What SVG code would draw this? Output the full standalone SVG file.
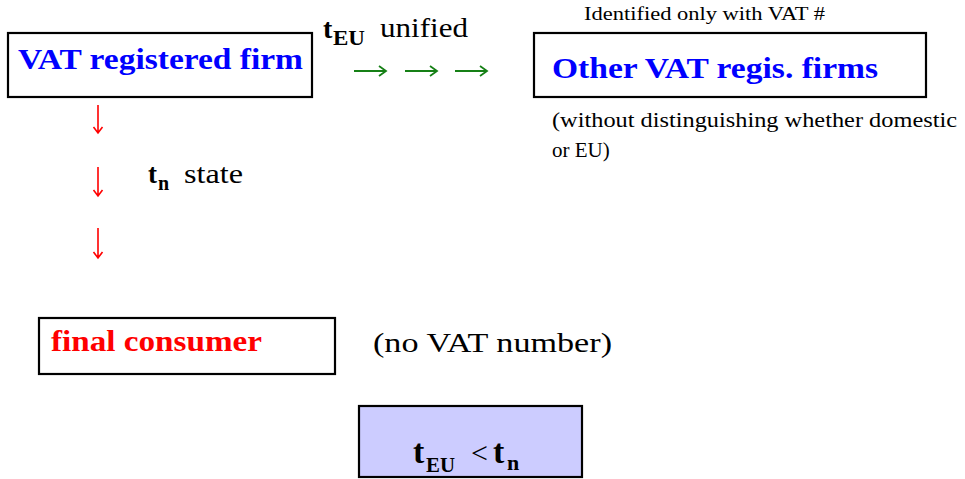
<svg xmlns="http://www.w3.org/2000/svg" width="965" height="479" viewBox="0 0 965 479">
<style>
text{font-family:'Liberation Serif','DejaVu Serif','Times New Roman',serif;}
.box{fill:#ffffff;stroke:#000000;stroke-width:2.2;}
.blue{fill:#0000ff;font-weight:bold;font-size:30px;}
.red{fill:#ff0000;font-weight:bold;font-size:29px;}
.b{font-weight:bold;}
.g{stroke:#168016;stroke-width:1.8;fill:none;}
.r{stroke:#ff0000;stroke-width:1.6;fill:none;}
</style>
<rect width="965" height="479" fill="#ffffff"/>
<g font-family="'Liberation Serif', 'DejaVu Serif', serif">
<g id="vat-firm">
<rect class="box" x="8" y="33" width="304" height="64"/>
<text class="blue" x="18" y="69" textLength="285" lengthAdjust="spacingAndGlyphs">VAT registered firm</text>
</g>
<g id="other-firms">
<text x="584" y="20" font-size="18" textLength="241" lengthAdjust="spacingAndGlyphs">Identified only with VAT #</text>
<rect class="box" x="534" y="33" width="392" height="64"/>
<text class="blue" x="552" y="78" textLength="326" lengthAdjust="spacingAndGlyphs">Other VAT regis. firms</text>
<text x="552" y="127" font-size="21" textLength="405" lengthAdjust="spacingAndGlyphs">(without distinguishing whether domestic</text>
<text x="552" y="157" font-size="21">or EU)</text>
</g>
<g id="final-consumer">
<rect class="box" x="39" y="318" width="296" height="56"/>
<text class="red" x="51" y="351" textLength="211" lengthAdjust="spacingAndGlyphs">final consumer</text>
<text x="373" y="352" font-size="28" textLength="239" lengthAdjust="spacingAndGlyphs">(no VAT number)</text>
</g>
<g id="inequality">
<rect x="359" y="406" width="223" height="71" fill="#ccccff" stroke="#000000" stroke-width="2.2"/>
<text x="413" y="463" font-size="34" class="b">t</text>
<text x="426" y="472" font-size="21" class="b" textLength="29" lengthAdjust="spacingAndGlyphs">EU</text>
<text x="471" y="463" font-size="30">&lt;</text>
<text x="493" y="463" font-size="34" class="b">t</text>
<text x="507" y="470" font-size="22" class="b">n</text>
</g>
<g id="labels">
<text x="323" y="38" font-size="28" class="b">t</text>
<text x="333" y="45" font-size="20" class="b" textLength="32" lengthAdjust="spacingAndGlyphs">EU</text>
<text x="380" y="37" font-size="28" textLength="88" lengthAdjust="spacingAndGlyphs">unified</text>
<text x="148" y="183" font-size="27" class="b">t</text>
<text x="158" y="190" font-size="20" class="b">n</text>
<text x="184" y="183" font-size="27" textLength="59" lengthAdjust="spacingAndGlyphs">state</text>
</g>
</g>
<g id="connectors">
<path class="g" d="M354 71H386M379 66L386 71L379 76"/>
<path class="g" d="M405 71H437M430 66L437 71L430 76"/>
<path class="g" d="M455 71H487M480 66L487 71L480 76"/>
<path class="r" d="M98 105V133M93.5 127L98 133L102.5 127"/>
<path class="r" d="M98 167V196M93.5 190L98 196L102.5 190"/>
<path class="r" d="M98 228V258M93.5 252L98 258L102.5 252"/>
</g>
</svg>
